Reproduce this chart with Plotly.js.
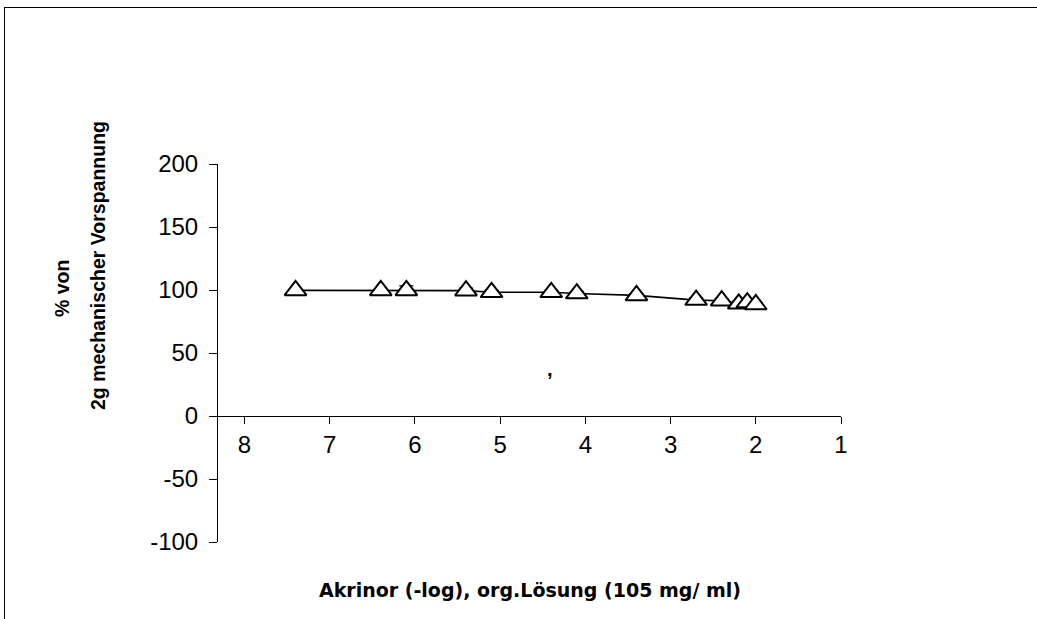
<!DOCTYPE html>
<html>
<head>
<meta charset="utf-8">
<script src="https://cdn.plot.ly/plotly-3.0.1.min.js"></script>
<style>html,body{margin:0;padding:0;background:#fff;}#chart{width:1037px;height:619px;}</style>
</head>
<body>
<div id="chart"></div>
<script>
// Data
var xLog = [7.4, 6.4, 6.1, 5.4, 5.1, 4.4, 4.1, 3.4, 2.7, 2.4, 2.2, 2.1, 2.0];
var yPct = [99.7, 99.7, 99.7, 99.5, 98.2, 98.2, 97.2, 95.7, 92.0, 91.5, 89.0, 90.0, 88.5];
var yErr = [0, 0, 3.5, 2, 1.5, 1.5, 1.5, 1.5, 2, 1.5, 2, 2, 1.5];
var xTicks = [8, 7, 6, 5, 4, 3, 2, 1];
var yTicks = [-100, -50, 0, 50, 100, 150, 200];
var strayLabel = {x: 4.42, y: 37, text: ','};

var W = 1037, H = 619;
var M = {l: 218, r: 196, t: 164, b: 77};
var pw = W - M.l - M.r, ph = H - M.t - M.b;
function px(xp){ return (xp - M.l) / pw; }
function py(yp){ return (H - M.b - yp) / ph; }

var tickFont = {family: '"Liberation Sans", Arial, sans-serif', size: 24, color: '#000'};

var trace = {
  x: xLog, y: yPct, type: 'scatter', mode: 'lines+markers',
  line: {color: '#000', width: 1.6},
  marker: {symbol: 'triangle-up', size: 19, color: '#fff', line: {color: '#000', width: 2}},
  error_y: {type: 'data', array: yErr, visible: true, color: '#000', thickness: 1.2, width: 7},
  hoverinfo: 'x+y', showlegend: false
};

var layout = {
  width: W, height: H,
  margin: M,
  paper_bgcolor: '#fff', plot_bgcolor: '#fff',
  font: {family: '"Liberation Sans", Arial, sans-serif', color: '#000'},
  showlegend: false,
  xaxis: {
    range: [8.31, 1], tickvals: xTicks, ticktext: xTicks.map(String),
    anchor: 'free', position: 100/300,
    showline: true, linecolor: '#000', linewidth: 1,
    ticks: 'outside', ticklen: 7, tickcolor: '#000', tickwidth: 1,
    showgrid: false, zeroline: false,
    tickfont: tickFont
  },
  yaxis: {
    range: [-100, 200], tickvals: yTicks, ticktext: yTicks.map(String),
    domain: [0, 1],
    showline: true, linecolor: '#000', linewidth: 1,
    ticks: 'outside', ticklen: 8, tickcolor: '#000', tickwidth: 1,
    ticklabelstandoff: 6,
    showgrid: false, zeroline: false,
    tickfont: tickFont
  },
  annotations: [
    {text: 'Akrinor (-log), org.Lösung (105 mg/ ml)', xref: 'paper', yref: 'paper',
     x: 0.5, y: py(590), xanchor: 'center', yanchor: 'middle', showarrow: false,
     font: {family: '"DejaVu Sans", sans-serif', size: 19, color: '#000', weight: 'bold'}},
    {text: '% von', xref: 'paper', yref: 'paper', textangle: -90,
     x: px(62), y: py(288), xanchor: 'center', yanchor: 'middle', showarrow: false,
     font: {family: '"Liberation Sans", Arial, sans-serif', size: 19.5, color: '#000', weight: 'bold'}},
    {text: '2g mechanischer Vorspannung', xref: 'paper', yref: 'paper', textangle: -90,
     x: px(98), y: py(266), xanchor: 'center', yanchor: 'middle', showarrow: false,
     font: {family: '"Liberation Sans", Arial, sans-serif', size: 19.5, color: '#000', weight: 'bold'}},
    {text: strayLabel.text, xref: 'x', yref: 'y', x: strayLabel.x, y: strayLabel.y,
     showarrow: false, font: {family: '"Liberation Sans", Arial, sans-serif', size: 20, color: '#000', weight: 'bold'}}
  ],
  shapes: [
    {type: 'line', xref: 'paper', yref: 'paper', x0: px(4), x1: px(1040), y0: py(7.5), y1: py(7.5),
     line: {color: '#000', width: 1}},
    {type: 'line', xref: 'paper', yref: 'paper', x0: px(4.5), x1: px(4.5), y0: py(7.5), y1: py(625),
     line: {color: '#000', width: 1}}
  ]
};

Plotly.newPlot('chart', [trace], layout, {displayModeBar: false, staticPlot: true});
</script>
</body>
</html>
